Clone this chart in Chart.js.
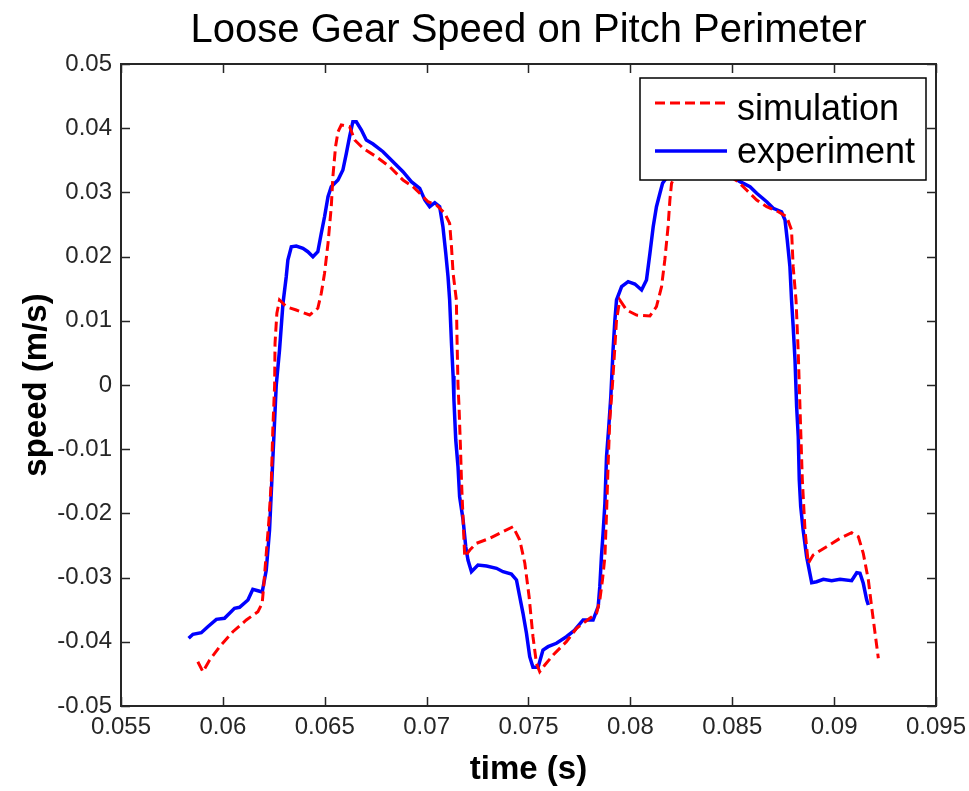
<!DOCTYPE html>
<html>
<head>
<meta charset="utf-8">
<title>Loose Gear Speed on Pitch Perimeter</title>
<script src="https://cdn.jsdelivr.net/npm/chart.js@4.4.1/dist/chart.umd.min.js"></script>
<style>
  html, body { margin: 0; padding: 0; background: #fff; }
  #wrap { width: 969px; height: 791px; }
</style>
</head>
<body>
<div id="wrap"><canvas id="chart" width="969" height="791"></canvas></div>
<script>
// ===== DADOS =====

const xTicks = [0.055, 0.06, 0.065, 0.07, 0.075, 0.08, 0.085, 0.09, 0.095];
const yTicks = [-0.05, -0.04, -0.03, -0.02, -0.01, 0, 0.01, 0.02, 0.03, 0.04, 0.05];

// simulation (red dashed)
const simTime = [
    0.05877, 0.05902, 0.05935, 0.05984, 0.06049, 0.06115, 0.06172, 0.06193, 0.06200, 0.06213,
    0.06226, 0.06238, 0.06245, 0.06254, 0.06256, 0.06265, 0.06278, 0.06311, 0.06360, 0.06426,
    0.06466, 0.06483, 0.06499, 0.06516, 0.06532, 0.06540, 0.06553, 0.06565, 0.06581, 0.06622,
    0.06647, 0.06688, 0.06753, 0.06819, 0.06884, 0.06933, 0.06966, 0.07007, 0.07048, 0.07089,
    0.07113, 0.07122, 0.07130, 0.07146, 0.07149, 0.07154, 0.07159, 0.07166, 0.07171, 0.07179,
    0.07187, 0.07212, 0.07244, 0.07310, 0.07375, 0.07424, 0.07457, 0.07482, 0.07503, 0.07522,
    0.07539, 0.07555, 0.07580, 0.07621, 0.07686, 0.07736, 0.07801, 0.07834, 0.07850, 0.07863,
    0.07875, 0.07883, 0.07891, 0.07899, 0.07912, 0.07924, 0.07932, 0.07948, 0.07981, 0.08030,
    0.08096, 0.08128, 0.08153, 0.08169, 0.08185, 0.08194, 0.08202,
    0.08233, 0.08366, 0.08479,
    0.08529, 0.08570, 0.08620, 0.08669, 0.08726, 0.08767, 0.08791, 0.08799, 0.08813, 0.08824,
    0.08836, 0.08844, 0.08857, 0.08873, 0.08897, 0.08963, 0.09029, 0.09086, 0.09119, 0.09143,
    0.09168, 0.09184, 0.09201, 0.09217
];
const simSpeed = [
    -0.04310, -0.04466, -0.04283, -0.04076, -0.03843, -0.03660, -0.03531, -0.03400, -0.03142, -0.02621,
    -0.02103, -0.01480, -0.00701, 0, 0.00650, 0.01117, 0.01324, 0.01220, 0.01168, 0.01090,
    0.01195, 0.01428, 0.01740, 0.02207, 0.02777, 0.03245, 0.03712, 0.03945, 0.04050, 0.04023,
    0.03816, 0.03687, 0.03556, 0.03400, 0.03193, 0.03089, 0.02986, 0.02855, 0.02804, 0.02674,
    0.02519, 0.02154, 0.01740, 0.01324, 0.00752, 0, -0.00338, -0.00961, -0.01480, -0.02103,
    -0.02674, -0.02570, -0.02466, -0.02388, -0.02285, -0.02207, -0.02414, -0.02777, -0.03298, -0.03921,
    -0.04335, -0.04466, -0.04361, -0.04206, -0.03998, -0.03790, -0.03634, -0.03556, -0.03349, -0.03037,
    -0.02674, -0.01998, -0.01220, -0.00545, 0, 0.00597, 0.01012, 0.01324, 0.01168, 0.01090,
    0.01075, 0.01220, 0.01531, 0.01947, 0.02466, 0.02882, 0.03142,
    0.03349, 0.03380, 0.03271,
    0.03167, 0.03037, 0.02882, 0.02777, 0.02699, 0.02621, 0.02414, 0.01843, 0.01324, 0.00494,
    -0.00701, -0.01480, -0.02259, -0.02777, -0.02648, -0.02519, -0.02388, -0.02301, -0.02363, -0.02621,
    -0.03037, -0.03453, -0.03868, -0.04257
];

// experiment (blue solid)
const expTime = [
    0.05832, 0.05853, 0.05894, 0.05926, 0.05968, 0.06008, 0.06057, 0.06082, 0.06123, 0.06147,
    0.06172, 0.06193, 0.06213, 0.06229, 0.06245, 0.06262, 0.06278, 0.06295, 0.06311, 0.06319,
    0.06336, 0.06360, 0.06393, 0.06417, 0.06442, 0.06466, 0.06483, 0.06499, 0.06516, 0.06532,
    0.06565, 0.06589, 0.06606, 0.06622, 0.06638, 0.06655, 0.06680, 0.06704, 0.06737, 0.06786,
    0.06835, 0.06884, 0.06925, 0.06966, 0.06991, 0.07015, 0.07040, 0.07064, 0.07080, 0.07094,
    0.07105, 0.07113, 0.07122, 0.07130, 0.07134, 0.07143, 0.07154, 0.07162, 0.07179, 0.07192,
    0.07203, 0.07220, 0.07252, 0.07294, 0.07343, 0.07375, 0.07416, 0.07441, 0.07457, 0.07473,
    0.07490, 0.07506, 0.07522, 0.07547, 0.07571, 0.07596, 0.07637, 0.07686, 0.07727, 0.07768,
    0.07817, 0.07842, 0.07850, 0.07858, 0.07866, 0.07875, 0.07883, 0.07894, 0.07904, 0.07915,
    0.07924, 0.07932, 0.07957, 0.07989, 0.08022, 0.08055, 0.08079, 0.08096, 0.08112, 0.08128,
    0.08145, 0.08158, 0.08204, 0.08341, 0.08464,
    0.08538, 0.08587, 0.08620, 0.08669, 0.08701, 0.08742, 0.08759, 0.08770, 0.08783, 0.08791,
    0.08799, 0.08808, 0.08816, 0.08824, 0.08829, 0.08836, 0.08848, 0.08865, 0.08881, 0.08890,
    0.08914, 0.08947, 0.08988, 0.09029, 0.09086, 0.09111, 0.09127, 0.09143, 0.09160, 0.09168
];
const expSpeed = [
    -0.03945, -0.03883, -0.03858, -0.03765, -0.03650, -0.03634, -0.03478, -0.03463, -0.03349, -0.03182,
    -0.03204, -0.03224, -0.02882, -0.02259, -0.01168, 0, 0.00545, 0.01273, 0.01687, 0.01947,
    0.02154, 0.02165, 0.02129, 0.02076, 0.01998, 0.02076, 0.02363, 0.02621, 0.02933, 0.03089,
    0.03193, 0.03349, 0.03609, 0.03868, 0.04101, 0.04101, 0.03972, 0.03816, 0.03754, 0.03634,
    0.03478, 0.03322, 0.03167, 0.03064, 0.02882, 0.02777, 0.02840, 0.02777, 0.02466, 0.02051,
    0.01687, 0.01324, 0.00650, 0.00140, -0.00234, -0.00857, -0.01273, -0.01740, -0.02103, -0.02519,
    -0.02726, -0.02908, -0.02804, -0.02819, -0.02855, -0.02908, -0.02944, -0.03037, -0.03298, -0.03556,
    -0.03868, -0.04232, -0.04397, -0.04397, -0.04128, -0.04076, -0.04023, -0.03921, -0.03816, -0.03660,
    -0.03660, -0.03453, -0.03142, -0.02674, -0.02310, -0.01843, -0.01117, -0.00650, -0.00182, 0.00545,
    0.01012, 0.01324, 0.01531, 0.01609, 0.01573, 0.01480, 0.01636, 0.02051, 0.02466, 0.02777,
    0.02986, 0.03142, 0.03349, 0.03427, 0.03318,
    0.03167, 0.03089, 0.02986, 0.02855, 0.02752, 0.02699, 0.02570, 0.02259, 0.01843, 0.01324,
    0.00908, 0.00389, -0.00338, -0.00805, -0.01480, -0.01896, -0.02259, -0.02674, -0.02933, -0.03079,
    -0.03064, -0.03026, -0.03048, -0.03026, -0.03048, -0.02924, -0.02933, -0.03089, -0.03349, -0.03427
];

// ===== GRÁFICO =====

const FONTE = '"Liberation Sans", Arial, Helvetica, sans-serif';
Chart.defaults.font.family = FONTE;

function pontos(xs, ys) {
    return xs.map((x, i) => ({ x, y: ys[i] }));
}

function formatarTick(v) {
    return String(parseFloat(Number(v).toFixed(4)));
}

// Caixa dos eixos com marcas internas (estilo MATLAB)
const caixaEixos = {
    id: 'caixaEixos',
    afterDraw(chart) {
        const { ctx, chartArea: a, scales: { x, y } } = chart;
        ctx.save();
        ctx.strokeStyle = '#262626';
        ctx.lineWidth = 2;
        ctx.setLineDash([]);
        ctx.strokeRect(a.left, a.top, a.right - a.left, a.bottom - a.top);
        ctx.beginPath();
        x.ticks.forEach(t => {
            const px = Math.round(x.getPixelForValue(t.value)) + 0.5;
            ctx.moveTo(px, a.bottom); ctx.lineTo(px, a.bottom - 9);
            ctx.moveTo(px, a.top); ctx.lineTo(px, a.top + 9);
        });
        y.ticks.forEach(t => {
            const py = Math.round(y.getPixelForValue(t.value)) + 0.5;
            ctx.moveTo(a.left, py); ctx.lineTo(a.left + 9, py);
            ctx.moveTo(a.right, py); ctx.lineTo(a.right - 9, py);
        });
        ctx.lineWidth = 1.5;
        ctx.stroke();
        ctx.restore();
    }
};

// Legenda dentro da área do gráfico, por cima das curvas
const legendaInterna = {
    id: 'legendaInterna',
    afterDatasetsDraw(chart) {
        const { ctx, chartArea: a } = chart;
        const w = 286, h = 102;
        const left = a.right - 10 - w;
        const top = a.top + 14;
        ctx.save();
        ctx.fillStyle = '#fff';
        ctx.fillRect(left, top, w, h);
        ctx.strokeStyle = '#000';
        ctx.lineWidth = 1.5;
        ctx.strokeRect(left, top, w, h);
        chart.data.datasets.forEach((ds, i) => {
            const yLinha = top + 25 + i * 48;
            ctx.beginPath();
            ctx.strokeStyle = ds.borderColor;
            ctx.lineWidth = ds.borderWidth;
            ctx.setLineDash(ds.borderDash || []);
            ctx.moveTo(left + 15, yLinha);
            ctx.lineTo(left + 87, yLinha);
            ctx.stroke();
            ctx.setLineDash([]);
            ctx.fillStyle = '#000';
            ctx.font = '36px ' + FONTE;
            ctx.textBaseline = 'alphabetic';
            ctx.textAlign = 'left';
            ctx.fillText(ds.label, left + 97, top + 42 + i * 43);
        });
        ctx.restore();
    }
};

const ctx = document.getElementById('chart');

const chartVelocidade = new Chart(ctx, {
    type: 'line',
    data: {
        datasets: [{
            label: 'simulation',
            data: pontos(simTime, simSpeed),
            borderColor: '#ff0000',
            borderWidth: 3,
            borderDash: [10, 5],
            pointRadius: 0,
            tension: 0,
            fill: false
        }, {
            label: 'experiment',
            data: pontos(expTime, expSpeed),
            borderColor: '#0000ff',
            borderWidth: 3.5,
            pointRadius: 0,
            tension: 0,
            fill: false
        }]
    },
    options: {
        responsive: false,
        animation: false,
        layout: {
            padding: { left: 0, right: 33, top: 0, bottom: 0 }
        },
        plugins: {
            legend: { display: false },
            tooltip: { enabled: false },
            title: {
                display: true,
                fullSize: false,
                text: 'Loose Gear Speed on Pitch Perimeter',
                color: '#000',
                font: { size: 40, weight: 'normal', lineHeight: 1.2 },
                padding: { top: 7, bottom: 9 }
            }
        },
        scales: {
            x: {
                type: 'linear',
                min: 0.055,
                max: 0.095,
                grid: { display: false, drawTicks: false },
                border: { display: false },
                ticks: {
                    autoSkip: false,
                    maxRotation: 0,
                    padding: 7,
                    color: '#262626',
                    font: { size: 24 },
                    callback: formatarTick
                },
                title: {
                    display: true,
                    text: 'time (s)',
                    color: '#000',
                    font: { size: 33, weight: 'bold', lineHeight: 1.2 },
                    padding: { top: 0, bottom: 1 }
                },
                afterBuildTicks(s) { s.ticks = xTicks.map(v => ({ value: v })); },
                afterFit(s) { s.height = 85; s.paddingLeft = 0; s.paddingRight = 0; }
            },
            y: {
                type: 'linear',
                min: -0.05,
                max: 0.05,
                grid: { display: false, drawTicks: false },
                border: { display: false },
                ticks: {
                    autoSkip: false,
                    padding: 9,
                    color: '#262626',
                    font: { size: 24 },
                    callback: formatarTick
                },
                title: {
                    display: true,
                    text: 'speed (m/s)',
                    color: '#000',
                    font: { size: 33, weight: 'bold', lineHeight: 1.2 },
                    padding: { top: 17, bottom: 0 }
                },
                afterBuildTicks(s) { s.ticks = yTicks.map(v => ({ value: v })); },
                afterFit(s) { s.width = 121; s.paddingTop = 0; s.paddingBottom = 0; }
            }
        }
    },
    plugins: [legendaInterna, caixaEixos]
});
</script>
</body>
</html>
